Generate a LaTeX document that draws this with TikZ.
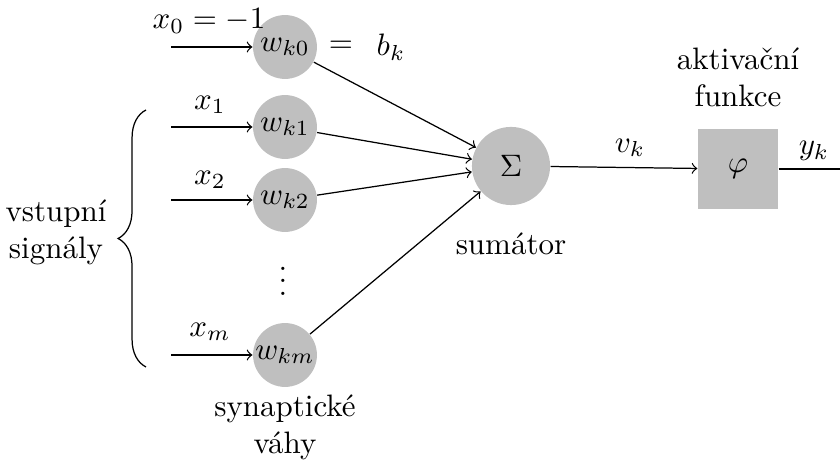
\documentclass[tikz,border=0pt]{standalone}
\usetikzlibrary{decorations.pathreplacing}
\begin{document}
\begin{tikzpicture}[x=0.3226pt,y=-0.3226pt,
  wnode/.style={circle,fill=lightgray,minimum size=20.6pt,inner sep=0pt},
  snode/.style={circle,fill=lightgray,minimum size=25.2pt,inner sep=0pt},
  fnode/.style={rectangle,fill=lightgray,minimum size=25.8pt,inner sep=0pt},
  lbl/.style={inner sep=0pt},
  arr/.style={->}]
\useasboundingbox (0,0) rectangle (840,462);
% weight nodes
\node[wnode] (w0) at (285,47) {$w_{k0}$};
\node[wnode] (w1) at (285,127) {$w_{k1}$};
\node[wnode] (w2) at (285,200) {$w_{k2}$};
\node[wnode] (wm) at (285,355) {$w_{km}$};
\node[lbl] (dots) at (283,272) {$\vdots$};
% inputs
\coordinate (i0) at (171,47);
\coordinate (i1) at (171,127);
\coordinate (i2) at (171,200);
\coordinate (im) at (171,355);
\draw[arr] (i0) -- (w0);
\draw[arr] (i1) -- (w1);
\draw[arr] (i2) -- (w2);
\draw[arr] (im) -- (wm);
\node[lbl] (lx0) at (209,21) {$x_0 = -1$};
\node[lbl] (lx1) at (210,105) {$x_1$};
\node[lbl] (lx2) at (210,180) {$x_2$};
\node[lbl] (lxm) at (210,332) {$x_m$};
\node[lbl] (eq) at (341,47) {$=$};
\node[lbl] (bk) at (391,47) {$b_k$};
% summator
\node[snode] (sum) at (511,166) {$\Sigma$};
\draw[arr] (w0) -- (sum);
\draw[arr] (w1) -- (sum);
\draw[arr] (w2) -- (sum);
\draw[arr] (wm) -- (sum);
\node[lbl] (sumlbl) at (511,244) {sumátor};
% activation
\node[fnode] (phi) at (738,169) {$\varphi$};
\draw[arr] (sum) -- (phi);
\node[lbl] (vk) at (630,148) {$v_k$};
\node[lbl,align=center] (akt) at (738,77) {aktivační\\funkce};
\coordinate (out) at (840,169);
\draw (phi) -- (out);
\node[lbl] (yk) at (814,151) {$y_k$};
% brace and labels
\coordinate (b1) at (146,367);
\coordinate (b2) at (146,110);
\draw[decorate,decoration={brace,amplitude=9pt}] (b1) -- (b2);
\node[lbl,align=center] (vst) at (56,232) {vstupní\\signály};
\node[lbl,align=center] (syn) at (285,427) {synaptické\\váhy};
\end{tikzpicture}
\end{document}
